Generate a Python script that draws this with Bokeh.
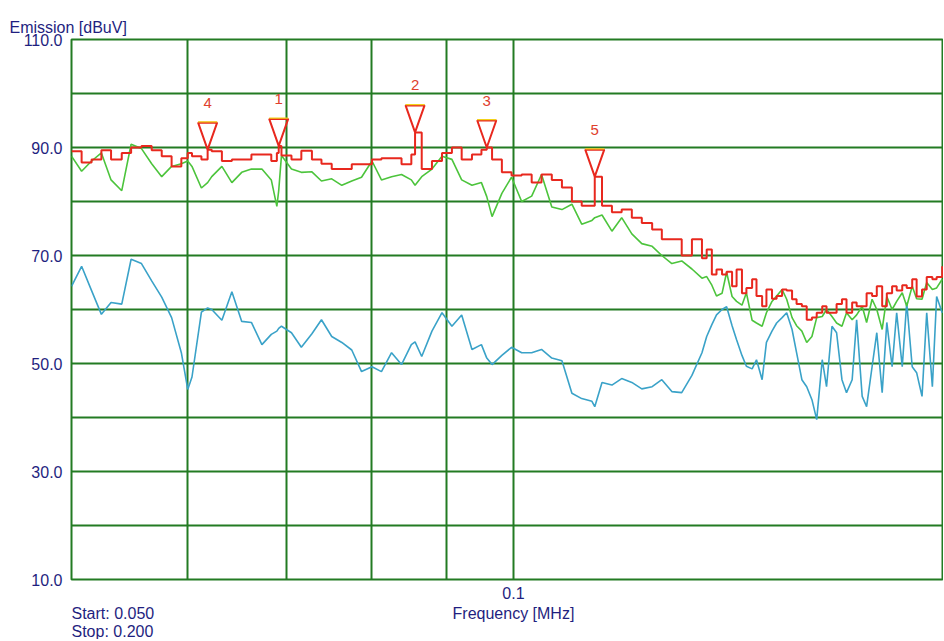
from bokeh.plotting import figure
from bokeh.layouts import column
from bokeh.models import FixedTicker, ColumnDataSource, Title
from bokeh.core.properties import value
from bokeh.embed import file_html
from bokeh.resources import INLINE

# ---------------- data ----------------
freq_mhz = [0.0500, 0.0508, 0.0516, 0.0524, 0.0532, 0.0541, 0.0549, 0.0558, 0.0567, 0.0576,
            0.0585, 0.0594, 0.0600, 0.0604, 0.0613, 0.0619, 0.0623, 0.0633, 0.0643, 0.0653,
            0.0663, 0.0674, 0.0684, 0.0690, 0.0692, 0.0695, 0.0706, 0.0717, 0.0729, 0.0740,
            0.0752, 0.0764, 0.0776, 0.0788, 0.0801, 0.0813, 0.0826, 0.0839, 0.0852, 0.0857,
            0.0866, 0.0880, 0.0894, 0.0908, 0.0922, 0.0937, 0.0951, 0.0959, 0.0967, 0.0982,
            0.0997, 0.1013, 0.1029, 0.1045, 0.1062, 0.1079, 0.1096, 0.1113, 0.1131, 0.1136,
            0.1149, 0.1167, 0.1185, 0.1204, 0.1223, 0.1243, 0.1262, 0.1282, 0.1302, 0.1323,
            0.1344, 0.1354, 0.1365, 0.1375, 0.1387, 0.1397, 0.1409, 0.1419, 0.1431, 0.1441,
            0.1454, 0.1464, 0.1477, 0.1487, 0.1500, 0.1511, 0.1524, 0.1535, 0.1548, 0.1559,
            0.1572, 0.1584, 0.1597, 0.1609, 0.1623, 0.1634, 0.1648, 0.1660, 0.1674, 0.1686,
            0.1701, 0.1713, 0.1728, 0.1740, 0.1755, 0.1768, 0.1783, 0.1796, 0.1811, 0.1824,
            0.1840, 0.1853, 0.1869, 0.1882, 0.1898, 0.1912, 0.1929, 0.1942, 0.1959]

peak_dbuv = [89.3, 87.2, 87.8, 89.5, 87.8, 89.0, 90.0, 90.3, 89.5, 88.4,
             86.5, 88.0, 89.0, 88.4, 87.8, 89.6, 89.3, 87.5, 87.8, 87.8,
             88.7, 88.7, 87.5, 89.0, 90.3, 88.5, 87.8, 89.4, 87.8, 87.0,
             86.0, 86.0, 86.9, 86.9, 87.8, 88.0, 88.0, 86.9, 88.7, 92.8,
             86.0, 87.5, 89.0, 90.0, 87.8, 88.7, 89.6, 90.0, 87.8, 85.4,
             84.8, 85.0, 83.5, 85.0, 84.0, 82.6, 80.0, 79.2, 79.2, 84.6,
             79.2, 78.0, 78.5, 77.0, 76.0, 74.8, 73.0, 73.0, 70.0, 73.0,
             69.5, 71.1, 66.5, 67.4, 66.5, 67.0, 64.3, 67.4, 63.0, 64.0,
             65.6, 62.5, 60.6, 63.7, 62.0, 62.5, 63.7, 63.5, 61.9, 61.0,
             60.6, 58.1, 58.5, 59.4, 60.6, 59.4, 59.4, 61.0, 61.9, 59.4,
             61.3, 60.6, 60.6, 63.0, 62.5, 64.3, 60.6, 63.0, 64.3, 63.5,
             64.5, 64.0, 65.6, 62.4, 63.7, 66.0, 65.6, 66.0, 68.0]

qpeak_dbuv = [88.4, 85.6, 87.5, 89.0, 84.0, 82.0, 90.6, 89.8, 87.0, 84.6,
              86.5, 87.0, 87.5, 86.5, 82.5, 83.5, 84.6, 86.5, 83.5, 85.4,
              86.0, 86.0, 84.0, 79.1, 82.0, 88.5, 86.0, 85.4, 85.5, 83.8,
              84.2, 83.0, 83.8, 84.5, 87.5, 84.0, 84.6, 85.0, 84.0, 83.0,
              84.6, 86.0, 88.4, 87.8, 84.0, 83.0, 83.5, 80.9, 77.2, 81.5,
              84.5, 80.0, 81.0, 85.0, 79.0, 78.5, 79.5, 75.8, 76.5, 77.0,
              77.5, 74.5, 77.0, 74.0, 72.2, 71.7, 70.0, 68.5, 69.0, 67.5,
              65.8, 66.1, 64.5, 62.5, 63.0, 66.9, 62.4, 61.5, 60.8, 63.1,
              58.0, 57.5, 56.9, 59.4, 61.5, 62.5, 63.7, 61.9, 58.5, 57.0,
              56.0, 53.9, 55.0, 58.5, 58.7, 60.0, 58.7, 57.5, 56.9, 59.4,
              58.1, 59.0, 60.6, 57.6, 61.9, 60.0, 56.3, 62.4, 60.0, 61.5,
              63.1, 60.6, 64.3, 62.0, 61.9, 65.0, 63.7, 64.0, 65.6]

avg_dbuv = [64.3, 68.0, 63.5, 59.1, 61.3, 61.0, 69.3, 68.5, 65.3, 62.3,
            58.5, 52.0, 45.2, 47.5, 59.5, 60.3, 60.0, 58.0, 63.3, 57.8,
            57.6, 53.5, 55.4, 56.0, 56.5, 56.9, 55.7, 53.0, 55.5, 58.1,
            55.0, 53.9, 52.5, 48.5, 49.4, 48.5, 52.0, 49.8, 53.5, 54.0,
            51.3, 56.0, 59.4, 56.9, 59.0, 52.6, 53.5, 51.0, 49.8, 51.5,
            53.0, 52.0, 52.0, 52.6, 51.0, 50.5, 44.5, 43.5, 43.0, 42.0,
            46.5, 46.0, 47.2, 46.5, 45.3, 45.7, 47.0, 44.8, 44.6, 47.8,
            52.0, 55.0, 57.2, 59.0, 60.0, 60.5, 57.0, 54.4, 51.5, 49.5,
            49.0, 50.7, 47.0, 53.9, 56.0, 57.5, 58.5, 59.4, 56.3, 52.0,
            47.0, 45.7, 43.3, 39.6, 50.7, 45.7, 56.9, 55.7, 47.0, 44.6,
            47.0, 58.1, 43.9, 42.0, 49.4, 55.7, 44.6, 57.6, 49.4, 59.4,
            49.4, 61.3, 49.4, 48.3, 43.9, 59.4, 45.7, 62.4, 59.4]

marker_labels = ["4", "1", "2", "3", "5"]
marker_freq = [0.0619, 0.0692, 0.0857, 0.0959, 0.1136]
marker_level = [89.6, 90.3, 92.8, 90.0, 84.6]

y_tick_values = [10, 30, 50, 70, 90, 110]
y_tick_labels = ["10.0", "30.0", "50.0", "70.0", "90.0", "110.0"]
y_grid_values = [20, 30, 40, 50, 60, 70, 80, 90, 100]
x_tick_values = [0.1]
x_tick_labels = ["0.1"]
x_grid_values = [0.06, 0.07, 0.08, 0.09, 0.1]

start_mhz = 0.050
stop_mhz = 0.200
title_text = "Emission [dBuV]"
x_title_text = "Frequency [MHz]"
start_text = "Start: 0.050"
stop_text = "Stop: 0.200"

# ---------------- styling ----------------
FONT = "Liberation Sans"
NAVY = "#1f1f80"
GRID = "#237b23"
RED = "#e8281e"
GREEN = "#4cc43c"
BLUE = "#3aa2c8"

p = figure(width=943, height=606, x_axis_type="log",
           x_range=(start_mhz, 0.1963), y_range=(10, 110),
           output_backend="svg", toolbar_location=None, title=None,
           min_border_left=71, min_border_right=0, min_border_top=39,
           min_border_bottom=27)
p.background_fill_color = "white"
p.border_fill_color = "white"
p.outline_line_color = GRID
p.outline_line_width = 2

# grids
p.xgrid.ticker = FixedTicker(ticks=x_grid_values)
p.ygrid.ticker = FixedTicker(ticks=y_grid_values)
for g in (p.xgrid, p.ygrid):
    g.grid_line_color = GRID
    g.grid_line_width = 2
    g.grid_line_alpha = 1.0

# axes
p.yaxis.ticker = FixedTicker(ticks=y_tick_values)
p.yaxis.major_label_overrides = {v: t for v, t in zip(y_tick_values, y_tick_labels)}
p.xaxis.ticker = FixedTicker(ticks=x_tick_values)
p.xaxis.major_label_overrides = {v: t for v, t in zip(x_tick_values, x_tick_labels)}
for ax in (p.xaxis, p.yaxis):
    ax.axis_line_color = None
    ax.major_tick_line_color = None
    ax.minor_tick_line_color = None
    ax.major_tick_out = 0
    ax.major_tick_in = 0
    ax.minor_tick_out = 0
    ax.minor_tick_in = 0
    ax.major_label_text_font = FONT
    ax.major_label_text_font_size = "16px"
    ax.major_label_text_color = NAVY
p.yaxis.major_label_standoff = 9
p.xaxis.major_label_standoff = 7

# title above, left of the frame
p.add_layout(Title(text=title_text, align="left", offset=-62, standoff=8,
                   text_font=FONT, text_font_size="16px", text_font_style="normal",
                   text_color=NAVY), "above")

# traces
src = ColumnDataSource(dict(f=freq_mhz, pk=peak_dbuv, qp=qpeak_dbuv, av=avg_dbuv))
p.line("f", "av", source=src, line_color=BLUE, line_width=1.6)
p.line("f", "qp", source=src, line_color=GREEN, line_width=1.6)
p.step("f", "pk", source=src, line_color=RED, line_width=2, mode="after")

# markers: inverted triangles whose tip sits on the marked level
half_w = 10 ** (9.5 / 1468.0)   # ~9.5 px half-width on the log axis
tri_h = 27 / 5.4                 # ~27 px tall, in dB
mxs, mys, top_x0, top_x1, top_y = [], [], [], [], []
for f, v in zip(marker_freq, marker_level):
    mxs.append([f / half_w, f * half_w, f])
    mys.append([v + tri_h, v + tri_h, v])
    top_x0.append(f / half_w)
    top_x1.append(f * half_w)
    top_y.append(v + tri_h + 0.15)
p.patches(mxs, mys, fill_color=None, line_color=RED, line_width=2)
p.segment(x0=top_x0, y0=top_y, x1=top_x1, y1=top_y, line_color="#f2d21a", line_width=1.2)
p.text(x=marker_freq, y=[v + tri_h for v in marker_level], text=marker_labels,
       text_font=value(FONT), text_font_size="15px", text_color="#e0402c",
       text_align="center", text_baseline="bottom", y_offset=-15)

# footer strip: axis title and start / stop texts, on the same log x range
q = figure(width=943, height=33, x_axis_type="log", x_range=p.x_range,
           y_range=(33, 0), output_backend="svg", toolbar_location=None,
           title=None, x_axis_location=None, y_axis_location=None,
           min_border_left=71, min_border_right=0, min_border_top=0,
           min_border_bottom=0)
q.grid.visible = False
q.outline_line_color = None
q.background_fill_color = "white"
q.border_fill_color = "white"
q.text(x=[start_mhz], y=[7], text=[start_text], text_font=value(FONT),
       text_font_size="16px", text_color=NAVY, text_align="left", text_baseline="middle")
q.text(x=[start_mhz], y=[25], text=[stop_text], text_font=value(FONT),
       text_font_size="16px", text_color=NAVY, text_align="left", text_baseline="middle")
q.text(x=x_tick_values, y=[7], text=[x_title_text], text_font=value(FONT),
       text_font_size="16px", text_color=NAVY, text_align="center", text_baseline="middle")

layout = column(p, q, spacing=0)
open("out.html", "w").write(file_html(layout, INLINE))
